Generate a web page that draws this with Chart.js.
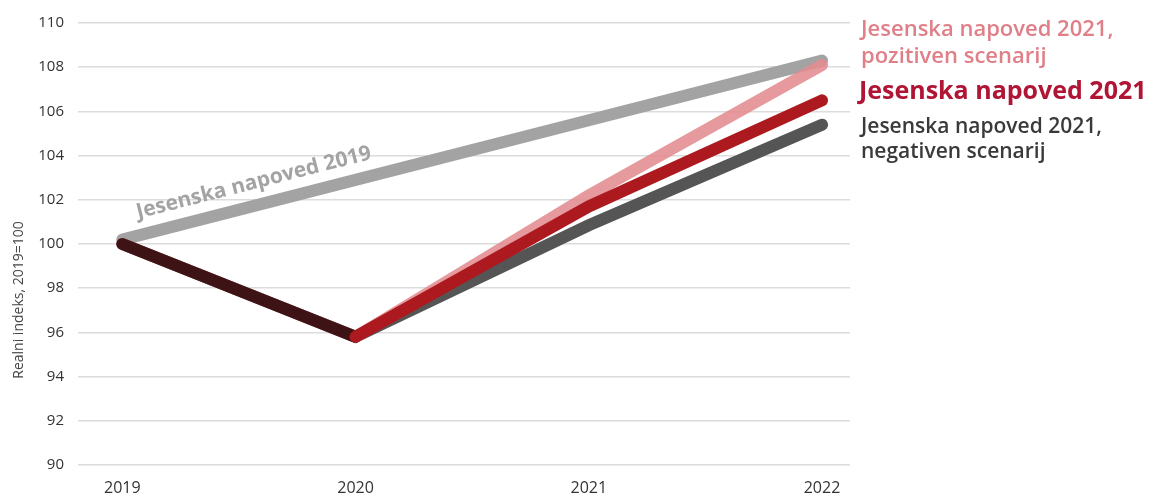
<!DOCTYPE html>
<html>
<head>
<meta charset="utf-8">
<script src="https://cdn.jsdelivr.net/npm/chart.js@4/dist/chart.umd.min.js"></script>
<style>
  html, body { margin: 0; padding: 0; background: #fff; }
  #wrap { width: 1165px; height: 495px; position: relative; }
</style>
</head>
<body>
<div id="wrap"><canvas id="chart"></canvas></div>
<script>
const years = [2019, 2020, 2021, 2022];
const napoved2019 = [100.2, 102.9, 105.6, 108.3];
const negativen2021 = [100, 95.8, 100.85, 105.4];
const pozitiven2021 = [100, 95.8, 102.2, 108.1];
const napoved2021 = [100, 95.8, 101.7, 106.5];
const yTicks = [90, 92, 94, 96, 98, 100, 102, 104, 106, 108, 110];

const lightGray = "#a3a3a3";
const darkGray = "#555555";
const pink = "rgba(226, 140, 144, 0.88)";
const red = "#ac1a20";
const maroon = "#3d1315";

const font = "'Open Sans', 'Noto Sans', sans-serif";

function pts(values) {
  return values.map((v, i) => ({ x: years[i], y: v }));
}

// labels beside and on the chart
const textPlugin = {
  id: 'texts',
  afterDatasetsDraw(chart) {
    const c = chart.ctx;
    const x = chart.scales.x, y = chart.scales.y;

    // axis title
    c.save();
    c.translate(19, 300);
    c.rotate(-Math.PI / 2);
    c.fillStyle = "#444";
    c.font = "14px " + font;
    c.textAlign = "center";
    c.textBaseline = "middle";
    c.fillText("Realni indeks, 2019=100", 0, 0);
    c.restore();

    // label along the 2019 forecast line
    const x0 = x.getPixelForValue(years[0]), y0 = y.getPixelForValue(napoved2019[0]);
    const x3 = x.getPixelForValue(years[3]), y3 = y.getPixelForValue(napoved2019[3]);
    const ang = Math.atan2(y3 - y0, x3 - x0);
    c.save();
    c.translate(x0 + 16, y0 - 21);
    c.rotate(ang);
    c.fillStyle = lightGray;
    c.font = "bold 21px " + font;
    c.textAlign = "left";
    c.textBaseline = "alphabetic";
    c.fillText("Jesenska napoved 2019", 0, 0);
    c.restore();

    // right-hand legend
    c.save();
    c.textAlign = "left";
    c.textBaseline = "middle";
    c.fillStyle = "#e07f88";
    c.font = "600 22px " + font;
    c.fillText("Jesenska napoved 2021,", 861, 30);
    c.fillText("pozitiven scenarij", 861, 57);
    c.fillStyle = "#b01535";
    c.font = "bold 25px " + font;
    c.fillText("Jesenska napoved 2021", 859, 92);
    c.fillStyle = "#3a3a3a";
    c.font = "600 21px " + font;
    c.fillText("Jesenska napoved 2021,", 861, 127);
    c.fillText("negativen scenarij", 861, 152);
    c.restore();
  }
};

new Chart(document.getElementById('chart'), {
  type: 'line',
  data: {
    datasets: [
      { label: 'Jesenska napoved 2019', data: pts(napoved2019), borderColor: lightGray, order: 3 },
      { label: 'Jesenska napoved 2021, negativen scenarij', data: pts(negativen2021), borderColor: darkGray, order: 2 },
      { label: 'Jesenska napoved 2021, pozitiven scenarij', data: pts(pozitiven2021), borderColor: pink, order: 1 },
      {
        label: 'Jesenska napoved 2021', data: pts(napoved2021), borderColor: red, order: 0,
        segment: { borderColor: ctx => ctx.p0DataIndex === 0 ? maroon : red }
      }
    ]
  },
  options: {
    responsive: true,
    maintainAspectRatio: false,
    animation: false,
    layout: { padding: { top: 20, right: 315, bottom: 0, left: 0 } },
    elements: {
      line: { borderWidth: 12, tension: 0, borderCapStyle: 'round', borderJoinStyle: 'miter', fill: false },
      point: { radius: 0, hoverRadius: 0 }
    },
    plugins: {
      legend: { display: false },
      title: { display: false },
      tooltip: { enabled: false }
    },
    scales: {
      x: {
        type: 'linear',
        min: 2018.81,
        max: 2022.12,
        afterBuildTicks: s => { s.ticks = years.map(v => ({ value: v })); },
        afterFit: s => { s.height = 30; },
        grid: { display: false },
        border: { display: false },
        ticks: {
          color: "#333",
          font: { family: font, size: 16 },
          padding: 6,
          maxRotation: 0,
          callback: v => String(v)
        }
      },
      y: {
        min: 90,
        max: 110,
        afterBuildTicks: s => { s.ticks = yTicks.map(v => ({ value: v })); },
        afterFit: s => { s.width = 78; },
        grid: { color: "#dcdcdc", lineWidth: 1.5, drawTicks: false },
        border: { display: false },
        ticks: {
          color: "#333",
          font: { family: font, size: 15 },
          padding: 14
        }
      }
    }
  },
  plugins: [textPlugin]
});
</script>
</body>
</html>
